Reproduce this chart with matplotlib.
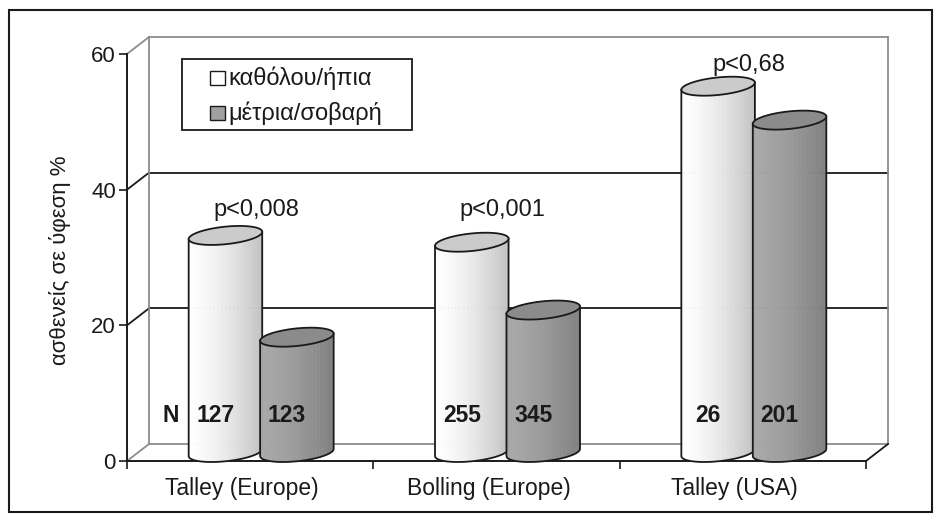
import numpy as np
import matplotlib.pyplot as plt
from matplotlib.patches import Polygon, Rectangle
from matplotlib.transforms import ScaledTranslation

plt.rcParams['font.family'] = ['Liberation Sans', 'DejaVu Sans']

# remission rates (%) per study, split by severity group
studies = ['Talley (Europe)', 'Bolling (Europe)', 'Talley (USA)']
mild = [32, 31, 54]          # καθόλου/ήπια
severe = [17, 21, 49]        # μέτρια/σοβαρή
n_mild = [127, 255, 26]
n_severe = [123, 345, 201]
p_values = ['p<0,008', 'p<0,001', 'p<0,68']
series_names = ['καθόλου/ήπια', 'μέτρια/σοβαρή']
yticks = [0, 20, 40, 60]

INK = '#1a1a1a'
WALL = '#8c8c8c'
FS = 16

fig = plt.figure(figsize=(9.4, 5.19), dpi=100)
W, H = 940, 519


def fx(px):
    return px / W


def fy(py):
    return 1 - py / H


# front plane of the 3d box
ax = fig.add_axes([fx(127), fy(461), fx(866) - fx(127), fy(54) - fy(461)])
ax.set_xlim(0, 3)
ax.set_ylim(0, 60)
ax.patch.set_visible(False)
for s in ['top', 'right']:
    ax.spines[s].set_visible(False)
for s in ['left', 'bottom']:
    ax.spines[s].set_color(INK)
    ax.spines[s].set_linewidth(1.4)
ax.set_yticks(yticks)
ax.set_yticklabels([str(v) for v in yticks])
ax.set_xticks([0, 1, 2, 3])
ax.set_xticklabels([])
ax.tick_params(axis='both', length=6, width=1.2, color=INK, labelsize=FS,
               labelcolor=INK, pad=2)

# pixels per data unit, used for the depth offset and cylinder caps
ppx = ax.bbox.width / 3
ppy = ax.bbox.height / 60
dx, dy = 22 / ppx, 17 / ppy          # full depth of the box
mx, my = dx / 2, dy / 2              # bars sit half way back

# back wall, side wall and floor edges
for g in yticks:
    c = INK if g in (20, 40) else WALL
    ax.plot([dx, 3 + dx], [g + dy, g + dy], color=c, lw=1.3, clip_on=False, zorder=1)
    ax.plot([0, dx], [g, g + dy], color=c, lw=1.3, clip_on=False, zorder=1)
ax.plot([dx, dx], [dy, 60 + dy], color=WALL, lw=1.3, clip_on=False, zorder=1)
ax.plot([3 + dx, 3 + dx], [dy, 60 + dy], color=WALL, lw=1.3, clip_on=False, zorder=1)
ax.plot([3, 3 + dx], [0, dy], color=INK, lw=1.3, clip_on=False, zorder=1)

# cylinder cross-section (pixels): half width, depth skew, depth height
CR, CA, CB = 34, 14, 9.5


def cylinder(xc, base, h, light, dark, cap, z):
    phi = np.arctan2(CA, CR)
    th = np.linspace(np.pi + phi, 2 * np.pi + phi, 29)
    ex = (CR * np.cos(th) + CA * np.sin(th)) / ppx
    ey = (CB * np.sin(th)) / ppy
    top = base + h
    x0, x1 = ex.min(), ex.max()
    light, dark = np.array(light), np.array(dark)
    for i in range(len(th) - 1):
        t = ((ex[i] + ex[i + 1]) / 2 - x0) / (x1 - x0)
        col = light + (dark - light) * t ** 1.5
        pts = [(xc + ex[i], top + ey[i]), (xc + ex[i + 1], top + ey[i + 1]),
               (xc + ex[i + 1], base + ey[i + 1]), (xc + ex[i], base + ey[i])]
        ax.add_patch(Polygon(pts, closed=True, fc=col, ec=col, lw=0.4,
                             clip_on=False, zorder=z))
    # outline of the body
    ox = np.concatenate([[xc + ex[0]], xc + ex, [xc + ex[-1]]])
    oy = np.concatenate([[top + ey[0]], base + ey, [top + ey[-1]]])
    ax.plot(ox, oy, color=INK, lw=1.3, clip_on=False, zorder=z + 0.1)
    # top cap
    tc = np.linspace(0, 2 * np.pi, 80)
    cx = xc + (CR * np.cos(tc) + CA * np.sin(tc)) / ppx
    cy = top + (CB * np.sin(tc)) / ppy
    ax.add_patch(Polygon(np.column_stack([cx, cy]), closed=True, fc=cap, ec=INK,
                         lw=1.3, clip_on=False, zorder=z + 0.2))


off = 0.145
for i in range(len(studies)):
    c = i + 0.5 + mx
    cylinder(c - off, my, mild[i], (1, 1, 1), (0.76, 0.76, 0.76), '#cbcbcb', 3 + i)
    cylinder(c + off, my, severe[i], (0.66, 0.66, 0.66), (0.50, 0.50, 0.50), '#8b8b8b', 3.5 + i)
    ax.text(c - off - 0.04, 5.5 + my, str(n_mild[i]), ha='center', va='center',
            fontsize=16.5, fontweight='bold', color=INK, zorder=10)
    ax.text(c + off - 0.04, 5.5 + my, str(n_severe[i]), ha='center', va='center',
            fontsize=16.5, fontweight='bold', color=INK, zorder=10)

ax.text(0.134 + mx, 5.5 + my, 'N', ha='center', va='center', fontsize=16.5,
        fontweight='bold', color=INK, zorder=10)

# p-values above each study
p_y = [35.8, 35.8, 57.1]
for i, p in enumerate(p_values):
    ax.text(i + 0.5 + mx - 0.02, p_y[i] + my, p, ha='center', va='center',
            fontsize=17, color=INK, zorder=10)

# category labels under the floor
shift = ScaledTranslation(-0.08, -0.34, fig.dpi_scale_trans)
for i, s in enumerate(studies):
    ax.text(i + 0.5, 0, s, ha='center', va='baseline', fontsize=16.5, color=INK,
            transform=ax.transData + shift)

fig.text(fx(60), fy(260), 'ασθενείς σε ύφεση %', rotation=90, ha='center',
         va='center', fontsize=FS, color=INK)

# legend box
fig.patches.append(Rectangle((fx(182), fy(130)), fx(412) - fx(182), fy(59) - fy(130),
                             transform=fig.transFigure, fc='white', ec=INK, lw=1.3,
                             zorder=20))
for k, (name, fc) in enumerate(zip(series_names, ['white', '#a0a0a0'])):
    yc = 78 + 35 * k
    fig.patches.append(Rectangle((fx(210), fy(yc + 7)), fx(225) - fx(210), fy(yc - 7) - fy(yc + 7),
                                 transform=fig.transFigure, fc=fc, ec=INK, lw=1.0,
                                 zorder=21))
    fig.text(fx(228), fy(yc), name, ha='left', va='center', fontsize=17,
             color=INK, zorder=22)

# outer frame
fig.patches.append(Rectangle((fx(9), fy(512)), fx(932) - fx(9), fy(10) - fy(512),
                             transform=fig.transFigure, fc='none', ec=INK, lw=1.5))

fig.savefig('out.png', dpi=100)
